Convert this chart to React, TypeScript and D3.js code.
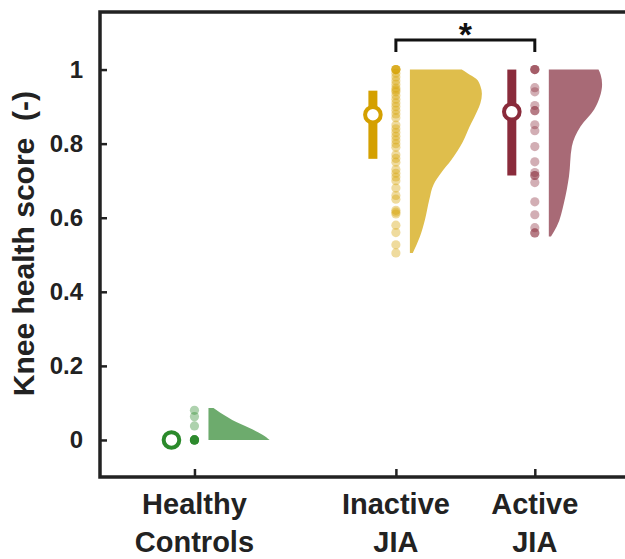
import React, { useEffect, useRef } from "react";
import * as d3 from "d3";

// groups and where they sit on the x axis (data units)
const groups = ["Healthy Controls", "Inactive JIA", "Active JIA"];
const groupLabels = [["Healthy", "Controls"], ["Inactive", "JIA"], ["Active", "JIA"]];
const groupX = [1, 2.45, 3.45];

// summary (centre circle + interquartile bar)
const centre = [0, 0.878, 0.886];
const q1 = [0, 0.759, 0.714];
const q3 = [0, 0.943, 1.0];

// individual scores
const healthyScores = [0.08, 0.063, 0.038, 0, 0, 0, 0, 0, 0, 0, 0];
const inactiveScores = [
  1.0, 1.0, 1.0, 1.0, 0.99, 0.98, 0.97, 0.96, 0.95, 0.945, 0.94, 0.93, 0.92, 0.91,
  0.9, 0.89, 0.88, 0.87, 0.85, 0.84, 0.83, 0.82, 0.81, 0.8, 0.79, 0.77, 0.76,
  0.75, 0.73, 0.72, 0.71, 0.7, 0.68, 0.66, 0.65, 0.62, 0.615, 0.61, 0.58, 0.56,
  0.527, 0.505,
];
const activeScores = [
  1.0, 1.0, 1.0, 0.951, 0.94, 0.903, 0.889, 0.889, 0.851, 0.835, 0.792, 0.751,
  0.722, 0.714, 0.714, 0.695, 0.643, 0.608, 0.573, 0.559, 0.559,
];

// half-violin density profiles: [score, relative density]
const healthyDensity = [
  [0, 0.85], [0.014, 0.75], [0.032, 0.57], [0.054, 0.33], [0.068, 0.21],
  [0.081, 0.11], [0.086, 0.07],
];
const inactiveDensity = [
  [0.505, 0.04], [0.549, 0.14], [0.595, 0.21], [0.649, 0.27], [0.69, 0.33],
  [0.72, 0.43], [0.757, 0.58], [0.803, 0.73], [0.846, 0.83], [0.89, 0.94],
  [0.91, 0.98], [0.935, 1.0], [0.955, 0.98], [0.975, 0.92], [0.99, 0.8], [1.0, 0.72],
];
const activeDensity = [
  [0.549, 0.03], [0.576, 0.11], [0.64, 0.21], [0.711, 0.28], [0.792, 0.32],
  [0.846, 0.44], [0.892, 0.63], [0.927, 0.71], [0.96, 0.74], [0.986, 0.72], [1.0, 0.69],
];

const yTicks = [0, 0.2, 0.4, 0.6, 0.8, 1];

const mainColors = ["#2b8a2b", "#d4a000", "#8a2b3b"];
const violinColors = ["#6dab6d", "#dfbe4c", "#a86a76"];

export default function App() {
  const svgRef = useRef(null);

  useEffect(() => {
    const W = 625;
    const H = 559;
    const svg = d3.select(svgRef.current);
    svg.selectAll("*").remove();
    svg.attr("width", W).attr("height", H);

    const font = "'Liberation Sans', Arial, Helvetica, sans-serif";
    const axisColor = "#222";

    const x = d3.scaleLinear().domain([0.32, 4.2]).range([100, 639]);
    const y = d3.scaleLinear().domain([-0.1, 1.15]).range([477, 14]);
    const dens = d3.scaleLinear().domain([0, 1]).range([0, 72]);

    const scores = [healthyScores, inactiveScores, activeScores];
    const densities = [healthyDensity, inactiveDensity, activeDensity];

    const g = svg.append("g");

    groups.forEach((name, i) => {
      const cx = x(groupX[i]);
      const left = cx + 14;

      const area = d3
        .area()
        .y((d) => y(d[0]))
        .x0(left)
        .x1((d) => left + dens(d[1]))
        .curve(d3.curveMonotoneY);

      g.append("path")
        .datum(densities[i])
        .attr("d", area)
        .attr("fill", violinColors[i]);

      g.selectAll(".dot" + i)
        .data(scores[i])
        .join("circle")
        .attr("class", "dot" + i)
        .attr("cx", cx)
        .attr("cy", (d) => y(d))
        .attr("r", 4.6)
        .attr("fill", mainColors[i])
        .attr("fill-opacity", 0.38);

      const bx = cx - 23;
      if (q3[i] > q1[i]) {
        g.append("rect")
          .attr("x", bx - 4.5)
          .attr("width", 9)
          .attr("y", y(q3[i]))
          .attr("height", y(q1[i]) - y(q3[i]))
          .attr("fill", mainColors[i]);
      }
      g.append("circle")
        .attr("cx", bx)
        .attr("cy", y(centre[i]))
        .attr("r", 7.8)
        .attr("fill", "#fff")
        .attr("stroke", mainColors[i])
        .attr("stroke-width", 4);
    });

    // axes box
    const yAxis = svg.append("g").attr("transform", "translate(100,0)");
    yAxis
      .call(d3.axisLeft(y).tickValues(yTicks).tickSize(-7).tickPadding(17).tickFormat(d3.format("~g")))
      .call((s) => s.select(".domain").remove());
    yAxis.selectAll("line").attr("stroke", axisColor).attr("stroke-width", 2.5);
    yAxis
      .selectAll("text")
      .attr("font-family", font)
      .attr("font-weight", "bold")
      .attr("font-size", 24)
      .attr("fill", "#222");

    const xAxis = svg.append("g").attr("transform", "translate(0,477)");
    xAxis
      .call(d3.axisBottom(x).tickValues(groupX).tickSize(-8).tickFormat(() => ""))
      .call((s) => s.select(".domain").remove());
    xAxis.selectAll("line").attr("stroke", axisColor).attr("stroke-width", 2.5);

    svg.append("path")
      .attr("d", `M${x(4.2)},12 H100 V477 H${x(4.2)}`)
      .attr("fill", "none")
      .attr("stroke", axisColor)
      .attr("stroke-width", 3.5);

    // category labels
    groupLabels.forEach((lines, i) => {
      lines.forEach((t, k) => {
        svg.append("text")
          .attr("x", x(groupX[i]))
          .attr("y", 514 + k * 38)
          .attr("text-anchor", "middle")
          .attr("font-family", font)
          .attr("font-weight", "bold")
          .attr("font-size", 29)
          .attr("fill", "#222")
          .text(t);
      });
    });

    svg.append("text")
      .attr("transform", `translate(34,${y(0.53)}) rotate(-90)`)
      .attr("text-anchor", "middle")
      .attr("font-family", font)
      .attr("font-weight", "bold")
      .attr("font-size", 30)
      .attr("fill", "#222")
      .attr("xml:space", "preserve")
      .style("white-space", "pre")
      .text("Knee health score  (-)");

    // significance bracket
    const bx1 = x(groupX[1]);
    const bx2 = x(groupX[2]);
    svg.append("path")
      .attr("d", `M${bx1},52 V40 H${bx2} V52`)
      .attr("fill", "none")
      .attr("stroke", "#111")
      .attr("stroke-width", 3);
    svg.append("text")
      .attr("x", (bx1 + bx2) / 2)
      .attr("y", 46)
      .attr("text-anchor", "middle")
      .attr("font-family", font)
      .attr("font-weight", "bold")
      .attr("font-size", 34)
      .attr("fill", "#111")
      .text("*");
  }, []);

  return (
    <svg ref={svgRef} style={{ position: "absolute", left: 0, top: 0 }}></svg>
  );
}
